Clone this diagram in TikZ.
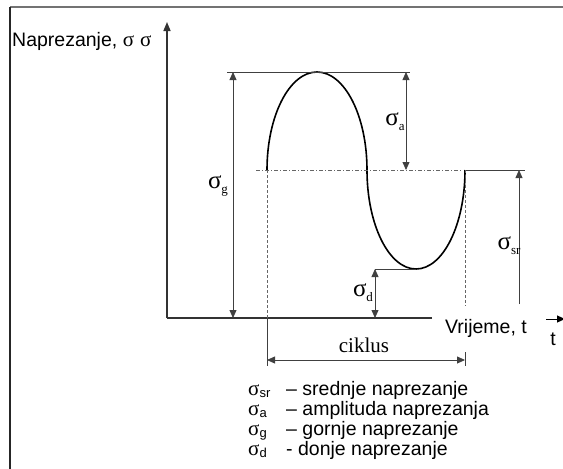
\documentclass[tikz,border=0pt]{standalone}
\usepackage{fontspec}
\setmainfont{Liberation Sans}
\newfontfamily\grk{Liberation Serif}
\usetikzlibrary{arrows.meta}
\newcommand{\gsig}[1]{{\fontsize{25}{25}\selectfont\grk σ}\raisebox{-5pt}{\fontsize{13}{13}\selectfont\grk #1}}
\newcommand{\lsig}[1]{{\fontsize{21}{21}\selectfont\grk σ}\raisebox{-2pt}{\fontsize{13}{13}\selectfont #1}}
\tikzset{
  tri/.tip={Triangle[length=8pt,width=7pt]},
  dimline/.style={line width=0.8pt, draw=black!75},
  dimboth/.style={dimline, tri-tri},
  extline/.style={line width=0.7pt, draw=black!60, dash pattern=on 3pt off 2pt},
  meanline/.style={line width=0.7pt, draw=black!60, dash pattern=on 4pt off 2pt on 1pt off 2pt},
  axis/.style={line width=1.5pt, draw=black!80},
}
\begin{document}
\begin{tikzpicture}[x=1pt, y=-1pt, every node/.style={font=\fontsize{19.5}{20}\selectfont, inner sep=0pt}]
  \useasboundingbox (0,0) rectangle (563,469);
  % frame
  \draw[line width=1.8pt, black!55] (10,7) -- (563,7);
  \draw[line width=1.8pt, black!85] (10,7) -- (10,469);
  % axes
  \coordinate (O) at (167,318); \coordinate (Ytop) at (167,22);
  \coordinate (Xend) at (432,318);
  \draw[axis] (Xend) -- (O);
  \draw[axis, -{Triangle[length=9pt,width=7pt]}] (O) -- (Ytop);
  % cycle points
  \coordinate (S) at (267,170); \coordinate (P) at (317,72);
  \coordinate (M) at (367,170); \coordinate (B) at (416,269);
  \coordinate (E) at (465,170);
  \draw[line width=1.6pt] (S) arc[start angle=180, end angle=360, x radius=50, y radius=98]
    arc[start angle=180, end angle=0, x radius=49, y radius=99];
  % guide lines
  \coordinate (Tl) at (227,72); \coordinate (Tr) at (410,72);
  \coordinate (Ml) at (256,170); \coordinate (Mr) at (462,170);
  \coordinate (R) at (525,170);
  \draw[dimline] (Tl) -- (Tr);
  \draw[meanline] (Ml) -- (Mr);
  \draw[dimline] (E) -- (R);
  \coordinate (Dl) at (375,269);
  \draw[dimline] (Dl) -- (B);
  % dimensions
  \coordinate (G1) at (233,72); \coordinate (G2) at (233,318);
  \coordinate (A1) at (406,72); \coordinate (A2) at (406,170);
  \coordinate (Sr1) at (519,304); \coordinate (Sr2) at (519,170);
  \coordinate (D2) at (375,318);
  \draw[dimboth] (G1) -- (G2);
  \draw[dimboth] (A1) -- (A2);
  \draw[dimline, -tri] (Sr1) -- (Sr2);
  \draw[dimboth] (Dl) -- (D2);
  \node (sg) at (218,186) {\gsig{g}};
  \node (sa) at (395,122) {\gsig{a}};
  \node (ssr) at (509,246) {\gsig{sr}};
  \node (sd) at (363,293) {\gsig{d}};
  % ciklus
  \coordinate (C1) at (267,360); \coordinate (C2) at (465,360);
  \draw[extline] (S) -- (267,318);
  \draw[dimline] (267,318) -- (267,366);
  \draw[extline] (E) -- (465,306);
  \draw[dimline] (465,352) -- (465,366);
  \draw[dimboth] (C1) -- (C2);
  \node[font=\fontsize{21}{21}\selectfont\grk] (cik) at (364,345) {ciklus};
  % axis labels
  \node[anchor=base west] (ylab) at (12,46) {Naprezanje, {\fontsize{21}{21}\selectfont\grk σ}\hspace{6pt}{\fontsize{21}{21}\selectfont\grk σ}};
  \node[anchor=base west] (xlab) at (445,333) {Vrijeme, t};
  \coordinate (T1) at (546,319); \coordinate (T2) at (565,319);
  \draw[line width=1pt, -{Triangle[length=8pt,width=7pt]}] (T1) -- (T2);
  \node (tlab) at (553,339) {t};
  % legend
  \foreach \s/\t/\y in {sr/{– srednje naprezanje}/395, a/{– amplituda naprezanja}/415,
      g/{– gornje naprezanje}/435, d/{- donje naprezanje}/455} {
    \node[anchor=base west] (l\s) at (248,\y) {\lsig{\s}};
    \node[anchor=base west] (t\s) at (286,\y) {\t};
  }
\end{tikzpicture}
\end{document}
